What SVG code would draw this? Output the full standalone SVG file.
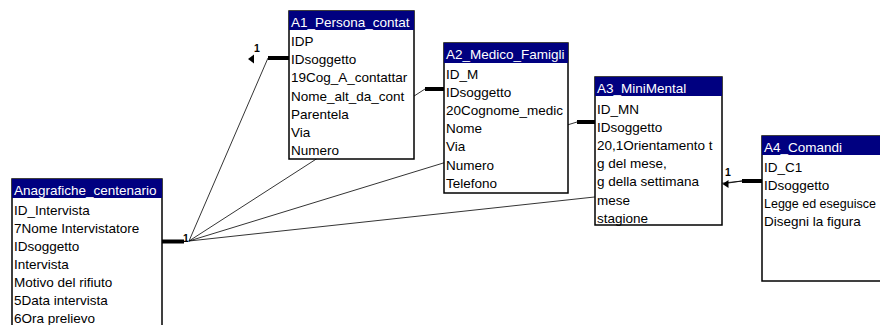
<svg xmlns="http://www.w3.org/2000/svg" width="880" height="325" viewBox="0 0 880 325">
<style>
.body{fill:#fff;stroke:#000;stroke-width:1.5}
.hdr{fill:#000080}
.ht{fill:#fff;font-family:"Liberation Sans",Arial,sans-serif;font-size:13.5px}
.ft{fill:#000;font-family:"Liberation Sans",Arial,sans-serif;font-size:13.5px}
.thin{stroke:#000;stroke-width:0.8;fill:none}
.thick{stroke:#000;stroke-width:4;fill:none}
.one{fill:#000;font-family:"Liberation Sans",Arial,sans-serif;font-size:10.5px;font-weight:bold}
</style>
<rect width="880" height="325" fill="#fff"/>
<g id="connectors">
<line class="thin" x1="189" y1="241" x2="268" y2="58"/>
<line class="thin" x1="189" y1="241" x2="425" y2="89"/>
<line class="thin" x1="189" y1="241" x2="577" y2="122"/>
<line class="thin" x1="189" y1="241" x2="742" y2="181"/>
</g>
<g id="Anagrafiche_centenario">
<rect class="body" x="12" y="179" width="150" height="160"/>
<rect class="hdr" x="12" y="179" width="150" height="19"/>
<text class="ht" x="14" y="195">Anagrafiche_centenario</text>
<text class="ft" x="14" y="215">ID_Intervista</text>
<text class="ft" x="14" y="233">7Nome Intervistatore</text>
<text class="ft" x="14" y="251">IDsoggetto</text>
<text class="ft" x="14" y="269">Intervista</text>
<text class="ft" x="14" y="287">Motivo del rifiuto</text>
<text class="ft" x="14" y="305">5Data intervista</text>
<text class="ft" x="14" y="323">6Ora prelievo</text>
</g>
<g id="A1_Persona_contat">
<rect class="body" x="289" y="11" width="125" height="148"/>
<rect class="hdr" x="289" y="11" width="125" height="19"/>
<text class="ht" x="291" y="27">A1_Persona_contat</text>
<text class="ft" x="291" y="46">IDP</text>
<text class="ft" x="291" y="64.2">IDsoggetto</text>
<text class="ft" x="291" y="82.4">19Cog_A_contattar</text>
<text class="ft" x="291" y="100.6">Nome_alt_da_cont</text>
<text class="ft" x="291" y="118.8">Parentela</text>
<text class="ft" x="291" y="137">Via</text>
<text class="ft" x="291" y="155.2">Numero</text>
</g>
<g id="A2_Medico_Famigli">
<rect class="body" x="444" y="43" width="124" height="150"/>
<rect class="hdr" x="444" y="43" width="124" height="20"/>
<text class="ht" x="446" y="59">A2_Medico_Famigli</text>
<text class="ft" x="446" y="78.5">ID_M</text>
<text class="ft" x="446" y="96.7">IDsoggetto</text>
<text class="ft" x="446" y="114.9">20Cognome_medic</text>
<text class="ft" x="446" y="133.1">Nome</text>
<text class="ft" x="446" y="151.3">Via</text>
<text class="ft" x="446" y="169.5">Numero</text>
<text class="ft" x="446" y="187.7">Telefono</text>
</g>
<g id="A3_MiniMental">
<rect class="body" x="595" y="77" width="127" height="148"/>
<rect class="hdr" x="595" y="77" width="127" height="19"/>
<text class="ht" x="597" y="93">A3_MiniMental</text>
<text class="ft" x="597" y="113.5">ID_MN</text>
<text class="ft" x="597" y="131.7">IDsoggetto</text>
<text class="ft" x="597" y="149.9">20,1Orientamento t</text>
<text class="ft" x="597" y="168.1">g del mese,</text>
<text class="ft" x="597" y="186.3">g della settimana</text>
<text class="ft" x="597" y="204.5">mese</text>
<text class="ft" x="597" y="222.7">stagione</text>
</g>
<g id="A4_Comandi">
<rect class="body" x="762" y="136" width="130" height="145"/>
<rect class="hdr" x="762" y="136" width="130" height="19"/>
<text class="ht" x="764" y="152">A4_Comandi</text>
<text class="ft" x="764" y="171.5">ID_C1</text>
<text class="ft" x="764" y="189.5">IDsoggetto</text>
<text class="ft" x="764" y="207.5" style="font-size:12.5px">Legge ed eseguisce</text>
<text class="ft" x="764" y="225.5">Disegni la figura</text>
</g>
<g id="connector-ends">
<line class="thick" x1="162" y1="241.5" x2="184" y2="241.5"/>
<line class="thick" x1="268" y1="58" x2="289" y2="58"/>
<line class="thick" x1="425" y1="89" x2="444" y2="89"/>
<line class="thick" x1="577" y1="122" x2="595" y2="122"/>
<line class="thick" x1="742" y1="181" x2="762" y2="181"/>
<line class="thin" x1="742" y1="181" x2="725" y2="183.5"/>
<text class="one" x="186" y="242" text-anchor="middle">1</text>
<text class="one" x="257" y="52" text-anchor="middle">1</text>
<polygon points="248,59 254,54.5 254,63.5" fill="#000"/>
<text class="one" x="728" y="176" text-anchor="middle">1</text>
<polygon points="722.5,184 728.5,180 728.5,188" fill="#000"/>
</g>
</svg>
